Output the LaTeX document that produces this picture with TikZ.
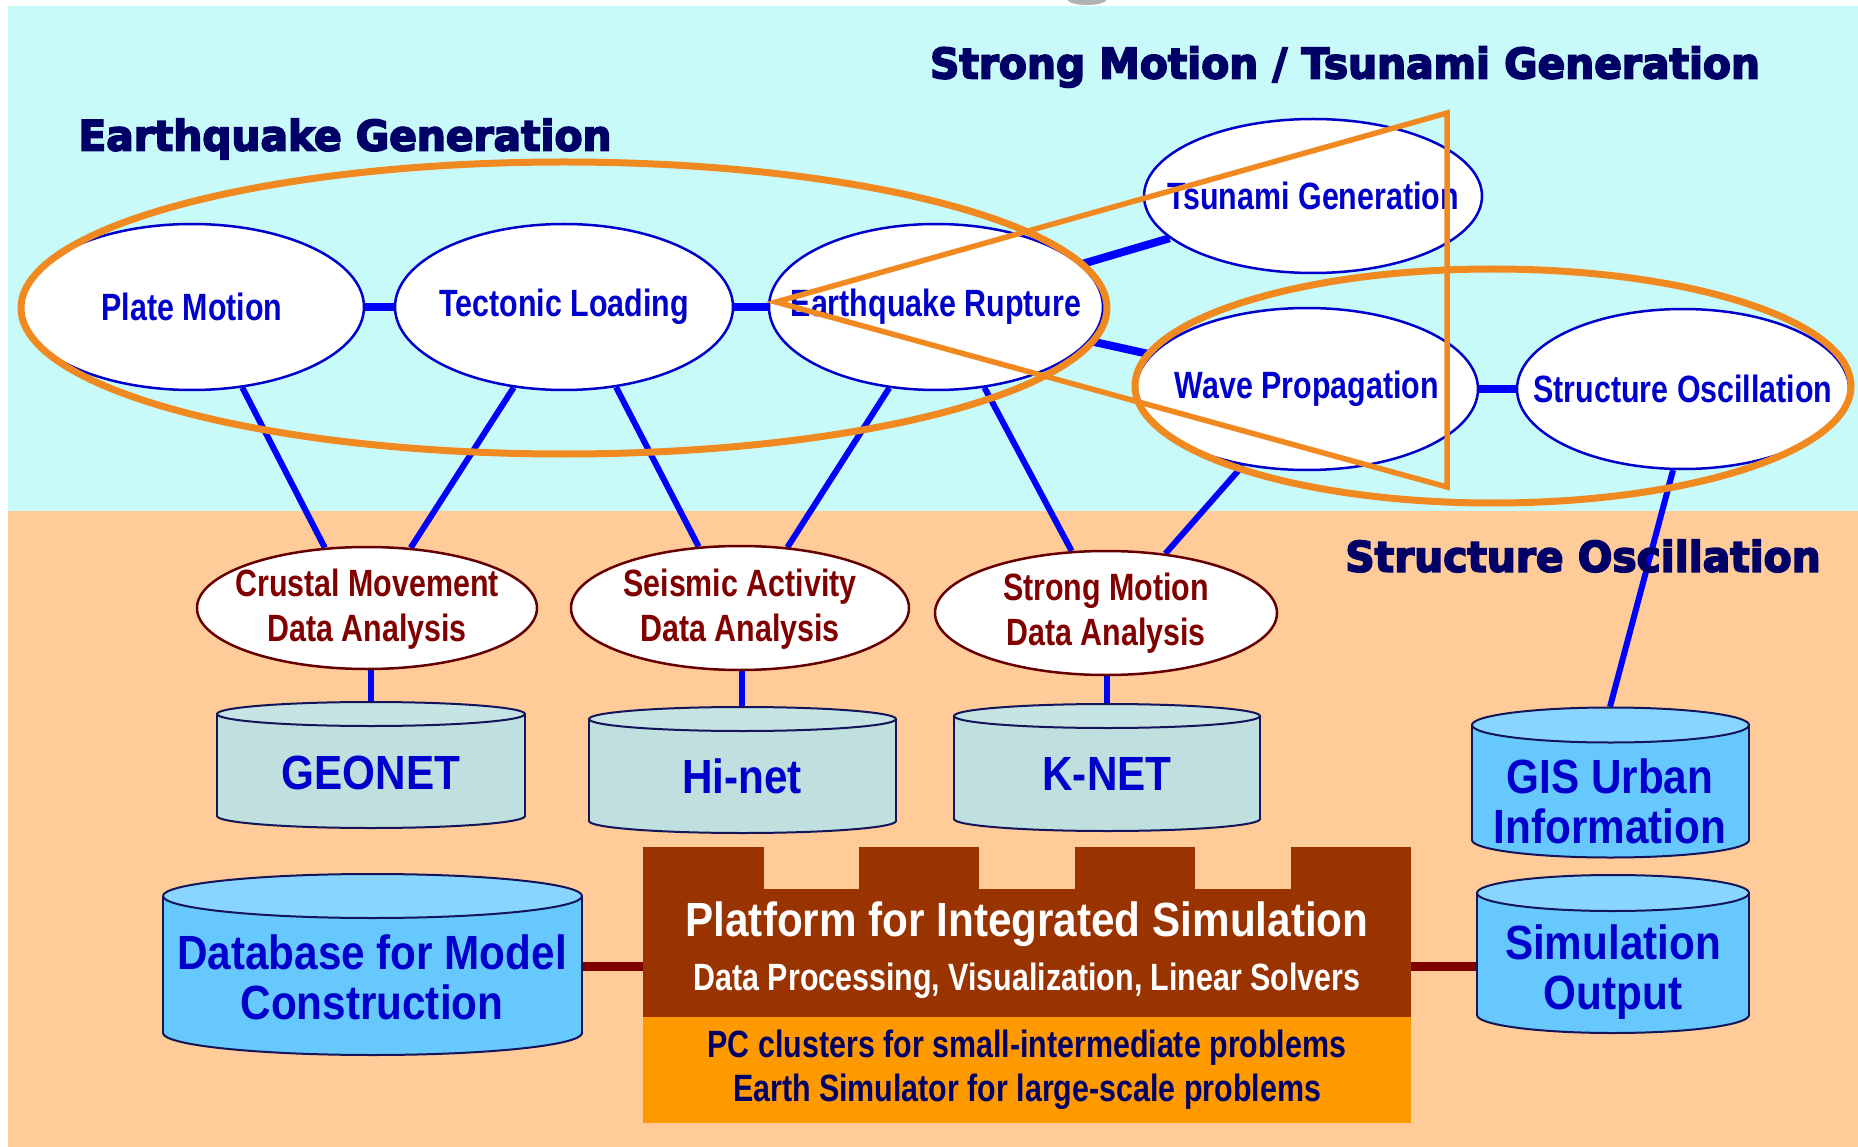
\documentclass[tikz,border=0pt]{standalone}
\usepackage{fontspec}
\setmainfont{Liberation Sans}
\newfontfamily\headfont{DejaVu Sans}[FakeStretch=0.97, FakeBold=4]
\newfontfamily\slimfont{Liberation Sans}[FakeStretch=0.8]
\newfontfamily\cylfont{Liberation Sans}[FakeStretch=0.88]
\usetikzlibrary{shapes.geometric}

\pgfdeclarelayer{paper}
\pgfdeclarelayer{links}
\pgfdeclarelayer{marks}
\pgfsetlayers{paper,links,main,marks}

\definecolor{sky}{RGB}{200,250,250}
\definecolor{peach}{RGB}{255,204,153}
\definecolor{navy}{RGB}{0,0,102}
\definecolor{procblue}{RGB}{0,0,204}
\definecolor{linkblue}{RGB}{0,0,255}
\definecolor{maroon}{RGB}{128,0,0}
\definecolor{rimred}{RGB}{102,0,0}
\definecolor{netfill}{RGB}{192,224,224}
\definecolor{netfilltop}{RGB}{198,228,228}
\definecolor{dbfill}{RGB}{102,200,252}
\definecolor{dbfilltop}{RGB}{136,214,255}
\definecolor{brick}{RGB}{153,51,0}
\definecolor{amber}{RGB}{255,153,0}
\definecolor{groupline}{RGB}{240,138,32}
\definecolor{rim}{RGB}{20,20,90}
\definecolor{busred}{RGB}{128,0,0}

% cylinder: x left, x right, y of top face, y of bottom face, face radius, body fill, top fill
\newcommand\drawdrum[7]{%
  \filldraw[fill=#6, draw=rim, line width=2pt] ({(#1+#2)/2},#4) ellipse[x radius={(#2-#1)/2}, y radius=#5];
  \fill[#6] (#1,#3) rectangle (#2,#4);
  \draw[rim, line width=2pt] (#1,#3) -- (#1,#4) (#2,#3) -- (#2,#4);
  \filldraw[fill=#7, draw=rim, line width=2pt] ({(#1+#2)/2},#3) ellipse[x radius={(#2-#1)/2}, y radius=#5];
}

\tikzset{
  proc/.style={ellipse, draw=procblue, line width=2.5pt, fill=white, inner sep=0pt},
  data/.style={ellipse, draw=rimred, line width=2.5pt, fill=white, inner sep=0pt},
  proctext/.style={inner sep=0pt, text=procblue, font=\slimfont\bfseries\fontsize{38}{44}\selectfont},
  datatext/.style={inner sep=0pt, align=center, text=maroon, font=\slimfont\bfseries\fontsize{38}{45}\selectfont},
  heading/.style={inner sep=0pt, text=navy, font=\headfont\bfseries\fontsize{42}{48}\selectfont},
  cyltext/.style={inner sep=0pt, align=center, text=procblue, font=\cylfont\bfseries\fontsize{48}{50}\selectfont},
  strongedge/.style={draw=linkblue, line width=8pt},
  thinedge/.style={draw=linkblue, line width=6pt},
  busedge/.style={draw=busred, line width=9pt},
  grouprim/.style={draw=groupline, line width=7pt},
}

\begin{document}
\begin{tikzpicture}[x=1pt, y=-1pt]
\useasboundingbox (0,0) rectangle (1858,1147);

% two bands of the background
\begin{pgfonlayer}{paper}
  \fill[white] (0,0) rectangle (1858,1147);
  \fill[sky] (8,6) rectangle (1858,511);
  \fill[peach] (8,511) rectangle (1858,1147);
  \fill[black!30] (1087,-1) ellipse[x radius=20, y radius=6];
\end{pgfonlayer}

% headings
\node[heading] (h-strong) at (1345,67) {Strong Motion / Tsunami Generation};
\node[heading] (h-quake) at (345,139) {Earthquake Generation};
\node[heading] (h-struct) at (1583,556) {Structure Oscillation};

% simulation stages
\node[proc, minimum width=344pt, minimum height=166pt] (plate) at (192,307) {};
\node[proc, minimum width=338pt, minimum height=166pt] (tect) at (564,307) {};
\node[proc, minimum width=334pt, minimum height=166pt] (rupt) at (936,307) {};
\node[proc, minimum width=338pt, minimum height=154pt] (tsun) at (1313,196) {};
\node[proc, minimum width=342pt, minimum height=162pt] (wave) at (1307,389) {};
\node[proc, minimum width=332pt, minimum height=160pt] (struct) at (1683,389) {};

\node[proctext] (plate-t) at (plate.center) {Plate Motion};
\node[proctext] (tect-t) at (tect.center) {Tectonic Loading};
\node[proctext] (rupt-t) at (rupt.center) {Earthquake Rupture};
\node[proctext] (tsun-t) at (tsun.center) {Tsunami Generation};
\node[proctext] (wave-t) at (wave.center) {Wave Propagation};
\node[proctext] (struct-t) at (struct.center) {Structure Oscillation};

% observation data analysis
\node[data, minimum width=340pt, minimum height=122pt] (crust) at (367,608) {};
\node[data, minimum width=338pt, minimum height=124pt] (seis) at (740,608) {};
\node[data, minimum width=342pt, minimum height=124pt] (strong) at (1106,613) {};

\node[datatext] (crust-t) at (367,609) {Crustal Movement\\Data Analysis};
\node[datatext] (seis-t) at (740,609) {Seismic Activity\\Data Analysis};
\node[datatext] (strong-t) at (1106,613) {Strong Motion\\Data Analysis};

% observation networks and databases
\drawdrum{217}{525}{714}{816}{12}{netfill}{netfilltop}
\drawdrum{589}{896}{719}{821}{12}{netfill}{netfilltop}
\drawdrum{954}{1260}{716}{819}{12}{netfill}{netfilltop}
\drawdrum{1472}{1749}{725}{840}{17.5}{dbfill}{dbfilltop}
\drawdrum{1477}{1749}{893}{1015}{18}{dbfill}{dbfilltop}
\drawdrum{163}{582}{896}{1033}{22}{dbfill}{dbfilltop}

\node[cyltext, minimum width=308pt, minimum height=142pt] (geonet) at (371,773) {GEONET};
\node[cyltext, minimum width=307pt, minimum height=138pt] (hinet) at (742,776) {Hi-net};
\node[cyltext, minimum width=306pt, minimum height=140pt] (knet) at (1107,774) {K-NET};
\node[cyltext, minimum width=277pt, minimum height=188pt] (gis) at (1610,801) {GIS Urban\\Information};
\node[cyltext, minimum width=272pt, minimum height=194pt] (sim) at (1613,972) {Simulation\\Output};
\node[cyltext, minimum width=419pt, minimum height=206pt] (db) at (372,977) {Database for Model\\Construction};

% integration platform with its battlements
\node[fill=brick, minimum width=768pt, minimum height=128pt, inner sep=0pt] (plat) at (1027,953) {};
\fill[brick] (643,847) rectangle (764,890);
\fill[brick] (859,847) rectangle (979,890);
\fill[brick] (1075,847) rectangle (1195,890);
\fill[brick] (1291,847) rectangle (1411,890);
\node[inner sep=0pt, text=white, font=\cylfont\bfseries\fontsize{48}{50}\selectfont] (plat-t) at (1027,924) {Platform for Integrated Simulation};
\node[inner sep=0pt, text=white, font=\slimfont\bfseries\fontsize{38}{44}\selectfont] (plat-s) at (1027,981) {Data Processing, Visualization, Linear Solvers};
\node[fill=amber, minimum width=768pt, minimum height=106pt, inner sep=0pt, align=center, text=navy,
      font=\slimfont\bfseries\fontsize{38}{44}\selectfont] (hw) at (1027,1070)
      {PC clusters for small-intermediate problems\\Earth Simulator for large-scale problems};

\coordinate (bus) at (1027,966);

% connectors
\begin{pgfonlayer}{links}
  \draw[strongedge] (plate) -- (tect);
  \draw[strongedge] (tect) -- (rupt);
  \draw[strongedge] (rupt) -- (tsun);
  \draw[strongedge] (rupt) -- (wave);
  \draw[strongedge] (wave) -- (struct);

  \draw[thinedge] (plate.-58) -- (crust.125);
  \draw[thinedge] (tect.-122) -- (crust.54);
  \draw[thinedge] (tect.-57) -- (seis.124);
  \draw[thinedge] (rupt.-120) -- (seis.52);
  \draw[thinedge] (rupt.-59) -- (strong.119);
  \draw[thinedge] (wave.-130) -- (strong.45);
  \draw[thinedge] (struct.-97) -- (gis.north);

  \draw[thinedge] (geonet.north |- crust.south) -- (geonet.north);
  \draw[thinedge] (hinet.north |- seis.south) -- (hinet.north);
  \draw[thinedge] (knet.north |- strong.south) -- (knet.north);

  \draw[busedge] (db.east |- bus) -- (plat.west |- bus);
  \draw[busedge] (plat.east |- bus) -- (sim.west |- bus);
\end{pgfonlayer}

% groupings of the stages
\begin{pgfonlayer}{marks}
  \draw[grouprim] (564,308) ellipse[x radius=543, y radius=146];
  \draw[grouprim] (1493,386) ellipse[x radius=358, y radius=117];
  \draw[draw=groupline, line width=5.5pt, line join=miter] (776,302) -- (1447,113) -- (1447,487) -- cycle;
\end{pgfonlayer}
\end{tikzpicture}
\end{document}
